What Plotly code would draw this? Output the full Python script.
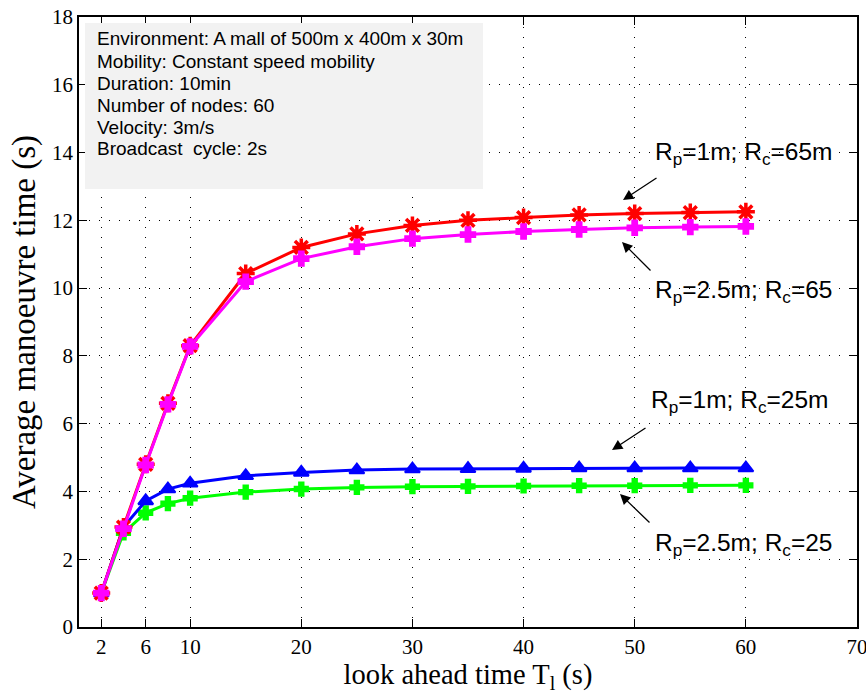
import plotly.graph_objects as go

x_vals = [2, 4, 6, 8, 10, 15, 20, 25, 30, 35, 40, 45, 50, 55, 60]
red_rp1_rc65 = [1.0, 2.95, 4.8, 6.6, 8.3, 10.43, 11.2, 11.6, 11.85, 12.0, 12.08, 12.16, 12.2, 12.23, 12.25]
mag_rp25_rc65 = [1.0, 2.9, 4.78, 6.57, 8.28, 10.19, 10.87, 11.22, 11.46, 11.58, 11.67, 11.73, 11.78, 11.8, 11.82]
blue_rp1_rc25 = [1.0, 2.95, 3.72, 4.07, 4.24, 4.46, 4.56, 4.63, 4.66, 4.67, 4.68, 4.69, 4.69, 4.69, 4.69]
green_rp25_rc25 = [1.0, 2.78, 3.37, 3.64, 3.8, 3.98, 4.07, 4.12, 4.14, 4.15, 4.16, 4.17, 4.17, 4.18, 4.18]

x_ticks = [2, 6, 10, 20, 30, 40, 50, 60, 70]
y_ticks = [0, 2, 4, 6, 8, 10, 12, 14, 16, 18]

info_lines = [
    "Environment: A mall of 500m x 400m x 30m",
    "Mobility: Constant speed mobility",
    "Duration: 10min",
    "Number of nodes: 60",
    "Velocity: 3m/s",
    "Broadcast  cycle: 2s",
]

fig = go.Figure()

def add_series(y, color, symbol, size, mlw=2, lw=3):
    fig.add_trace(go.Scatter(
        x=x_vals, y=y, mode="lines+markers",
        line=dict(color=color, width=lw),
        marker=dict(symbol=symbol, size=size, color=color,
                    line=dict(color=color, width=mlw)),
        showlegend=False, cliponaxis=False))

add_series(green_rp25_rc25, "#00ff00", "cross", 11)
add_series(blue_rp1_rc25, "#0000ff", "triangle-up", 13)
add_series(red_rp1_rc65, "#ff0000", "asterisk-open", 15, mlw=3.5)
add_series(mag_rp25_rc65, "#ff00ff", "cross", 12)

# pixel helpers (screen coords; plot area spans 79..857 x, 17..627 y)
def px_x(p):
    return (p - 79) / 778 * 70
def px_y(p):
    return (627 - p) / 610 * 18

fig.add_shape(type="rect", xref="x", yref="y",
              x0=px_x(85), x1=px_x(483), y0=px_y(189), y1=px_y(23),
              fillcolor="#f2f2f2", line=dict(width=0), layer="above")

line_centers = [38, 61, 83, 105, 127, 148]
for txt, cy in zip(info_lines, line_centers):
    fig.add_annotation(x=px_x(95), y=px_y(cy), text=txt, showarrow=False,
                       xanchor="left", yanchor="middle",
                       font=dict(family="Liberation Sans, Arial", size=19, color="black"))

labels = [
    ("R<sub>p</sub>=1m; R<sub>c</sub>=65m", 653, 153),
    ("R<sub>p</sub>=2.5m; R<sub>c</sub>=65", 653, 291),
    ("R<sub>p</sub>=1m; R<sub>c</sub>=25m", 649, 401),
    ("R<sub>p</sub>=2.5m; R<sub>c</sub>=25", 653, 544),
]
for txt, lx, cy in labels:
    fig.add_annotation(x=px_x(lx), y=px_y(cy), text=txt, showarrow=False,
                       xanchor="left", yanchor="middle",
                       font=dict(family="Liberation Sans, Arial", size=24.5, color="black"))

arrows = [
    (623, 200, 35, -23),
    (622, 242, 30, 30),
    (612, 450, 35, -23),
    (620, 494, 31, 30),
]
for tx, ty, ax, ay in arrows:
    fig.add_annotation(x=px_x(tx), y=px_y(ty), text="", showarrow=True,
                       ax=ax, ay=ay, arrowhead=2, arrowsize=1.6, arrowwidth=1.3,
                       arrowcolor="black")

serif = "Liberation Serif, Times New Roman"
fig.update_layout(
    width=866, height=699,
    margin=dict(l=79, r=9, t=17, b=72, autoexpand=False),
    paper_bgcolor="white", plot_bgcolor="white",
    font=dict(family=serif, size=21, color="black"),
    xaxis=dict(range=[0, 70], tickvals=x_ticks, ticktext=[str(t) for t in x_ticks],
               ticks="inside", ticklen=8, tickcolor="black", tickwidth=1,
               showline=True, linecolor="black", linewidth=1.5, mirror="ticks",
               showgrid=True, gridcolor="black", gridwidth=1, griddash="1px,9px",
               zeroline=False, ticklabeloverflow="allow", automargin=False,
               title=dict(text="look ahead time T<sub>l</sub> (s)",
                          font=dict(family=serif, size=28.5), standoff=5),
               tickfont=dict(family=serif, size=21)),
    yaxis=dict(range=[0, 18], tickvals=y_ticks,
               ticks="inside", ticklen=8, tickcolor="black", tickwidth=1,
               showline=True, linecolor="black", linewidth=1.5, mirror="ticks",
               showgrid=True, gridcolor="black", gridwidth=1, griddash="1px,9px",
               zeroline=False, ticklabeloverflow="allow", automargin=False,
               title=dict(text="Average manoeuvre time (s)",
                          font=dict(family=serif, size=33), standoff=6),
               tickfont=dict(family=serif, size=21)),
)

fig.write_html("out.html", config={"displayModeBar": False},
               post_script="document.body.style.margin='0';")
